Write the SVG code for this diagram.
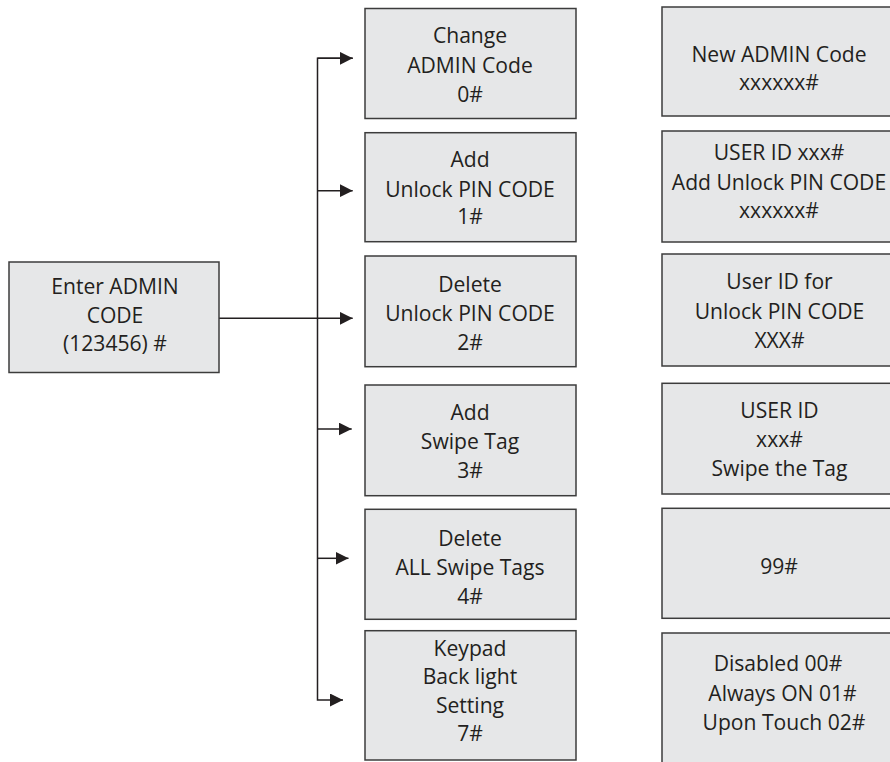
<svg xmlns="http://www.w3.org/2000/svg" width="890" height="762" viewBox="0 0 890 762">
<style>
.box{fill:#e6e7e8;stroke:#3c3c3c;stroke-width:1.5}
.t{font-family:"Open Sans","Noto Sans",sans-serif;font-size:21.1px;fill:#231f20;text-anchor:middle}
.ln{fill:none;stroke:#231f20;stroke-width:1.5}
</style>
<defs>
<marker id="ah" viewBox="0 0 13 13" refX="13" refY="6.5" markerWidth="13" markerHeight="13" markerUnits="userSpaceOnUse" orient="auto">
<path d="M0,0 L13,6.5 L0,13 Z" fill="#231f20"/>
</marker>
</defs>
<rect width="890" height="762" fill="#ffffff"/>
<g id="connectors">
<line class="ln" x1="219" y1="318.3" x2="352.7" y2="318.3" marker-end="url(#ah)"/>
<polyline class="ln" points="352.7,58.3 317.5,58.3 317.5,700 343,700" marker-end="url(#ah)"/>
<line class="ln" x1="317.5" y1="58.3" x2="352.7" y2="58.3" marker-end="url(#ah)"/>
<line class="ln" x1="317.5" y1="190.7" x2="352.7" y2="190.7" marker-end="url(#ah)"/>
<line class="ln" x1="317.5" y1="429" x2="351.7" y2="429" marker-end="url(#ah)"/>
<line class="ln" x1="317.5" y1="558.3" x2="348.5" y2="558.3" marker-end="url(#ah)"/>
</g>
<g id="enter-admin">
<rect class="box" x="9" y="262" width="210" height="110.5"/>
<text class="t" x="115" y="294">Enter ADMIN</text>
<text class="t" x="115" y="322.5">CODE</text>
<text class="t" x="115" y="351">(123456) #</text>
</g>
<g id="change-admin">
<rect class="box" x="365" y="8.5" width="211" height="110"/>
<text class="t" x="470" y="43">Change</text>
<text class="t" x="470" y="73">ADMIN Code</text>
<text class="t" x="470" y="102">0#</text>
</g>
<g id="add-pin">
<rect class="box" x="365" y="132.7" width="211" height="109"/>
<text class="t" x="470" y="166.5">Add</text>
<text class="t" x="470" y="196.5">Unlock PIN CODE</text>
<text class="t" x="470" y="224">1#</text>
</g>
<g id="delete-pin">
<rect class="box" x="365" y="256" width="211" height="110.7"/>
<text class="t" x="470" y="291.5">Delete</text>
<text class="t" x="470" y="320.5">Unlock PIN CODE</text>
<text class="t" x="470" y="349.5">2#</text>
</g>
<g id="add-tag">
<rect class="box" x="365" y="385" width="211" height="110.7"/>
<text class="t" x="470" y="419.5">Add</text>
<text class="t" x="470" y="448.5">Swipe Tag</text>
<text class="t" x="470" y="477.5">3#</text>
</g>
<g id="delete-tags">
<rect class="box" x="365" y="509.3" width="211" height="110"/>
<text class="t" x="470" y="545.5">Delete</text>
<text class="t" x="470" y="574.5">ALL Swipe Tags</text>
<text class="t" x="470" y="603.5">4#</text>
</g>
<g id="backlight">
<rect class="box" x="365" y="630.7" width="211" height="129.3"/>
<text class="t" x="470" y="655.5">Keypad</text>
<text class="t" x="470" y="684">Back light</text>
<text class="t" x="470" y="713">Setting</text>
<text class="t" x="470" y="741">7#</text>
</g>
<g id="new-admin">
<rect class="box" x="662" y="7" width="232" height="109"/>
<text class="t" x="779" y="61.7">New ADMIN Code</text>
<text class="t" x="779" y="90">xxxxxx#</text>
</g>
<g id="user-add-pin">
<rect class="box" x="662" y="131" width="232" height="111"/>
<text class="t" x="779" y="160">USER ID xxx#</text>
<text class="t" x="779" y="189.5">Add Unlock PIN CODE</text>
<text class="t" x="779" y="217.5">xxxxxx#</text>
</g>
<g id="user-delete-pin">
<rect class="box" x="662" y="254" width="232" height="112"/>
<text class="t" x="779.5" y="288.5">User ID for</text>
<text class="t" x="779.5" y="319">Unlock PIN CODE</text>
<text class="t" x="779.5" y="348">XXX#</text>
</g>
<g id="user-tag">
<rect class="box" x="662" y="383.3" width="232" height="110.7"/>
<text class="t" x="779.5" y="417.5">USER ID</text>
<text class="t" x="779.5" y="446.5">xxx#</text>
<text class="t" x="779.5" y="476">Swipe the Tag</text>
</g>
<g id="delete-all">
<rect class="box" x="662" y="508.3" width="232" height="110"/>
<text class="t" x="779" y="574">99#</text>
</g>
<g id="backlight-options">
<rect class="box" x="662" y="633" width="232" height="131"/>
<text class="t" x="778" y="670.7">Disabled 00#</text>
<text class="t" x="782.5" y="700.7">Always ON 01#</text>
<text class="t" x="784" y="730">Upon Touch 02#</text>
</g>
</svg>
